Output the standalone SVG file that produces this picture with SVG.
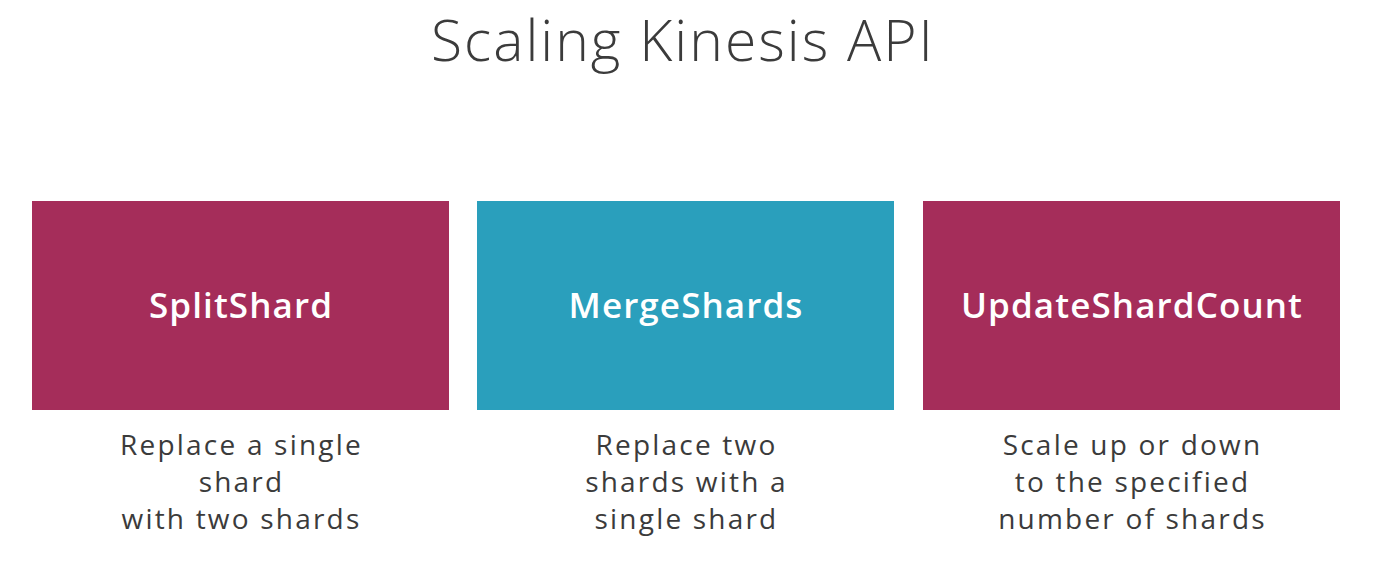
<svg xmlns="http://www.w3.org/2000/svg" width="1379" height="569" viewBox="0 0 1379 569">
<style>
.title{font-family:"Open Sans","Liberation Sans",sans-serif;font-weight:300;font-size:57px;fill:#3b3b3b;text-anchor:middle;letter-spacing:2px}
.lbl{font-family:"Open Sans","Liberation Sans",sans-serif;font-weight:600;font-size:35px;fill:#ffffff;text-anchor:middle;letter-spacing:1.1px}
.cap{font-family:"Open Sans","Liberation Sans",sans-serif;font-size:28px;fill:#3b3b3b;text-anchor:middle;letter-spacing:2.2px}
.mag{fill:#A52D5A}
.teal{fill:#2A9FBC}
</style>
<rect width="1379" height="569" fill="#ffffff"/>
<text class="title" x="683" y="61">Scaling Kinesis API</text>
<g id="node-splitshard">
<rect class="mag" x="32" y="201" width="417" height="209"/>
<text class="lbl" x="241" y="318">SplitShard</text>
<text class="cap" x="241.5" y="455">Replace a single</text>
<text class="cap" x="241.5" y="492">shard</text>
<text class="cap" x="241.5" y="529">with two shards</text>
</g>
<g id="node-mergeshards">
<rect class="teal" x="477" y="201" width="417" height="209"/>
<text class="lbl" x="686" y="318">MergeShards</text>
<text class="cap" x="686.5" y="455">Replace two</text>
<text class="cap" x="686.5" y="492">shards with a</text>
<text class="cap" x="686.5" y="529">single shard</text>
</g>
<g id="node-updateshardcount">
<rect class="mag" x="923" y="201" width="417" height="209"/>
<text class="lbl" x="1132" y="318">UpdateShardCount</text>
<text class="cap" x="1132.5" y="455">Scale up or down</text>
<text class="cap" x="1132.5" y="492">to the specified</text>
<text class="cap" x="1132.5" y="529">number of shards</text>
</g>
<g id="connectors"></g>
</svg>
